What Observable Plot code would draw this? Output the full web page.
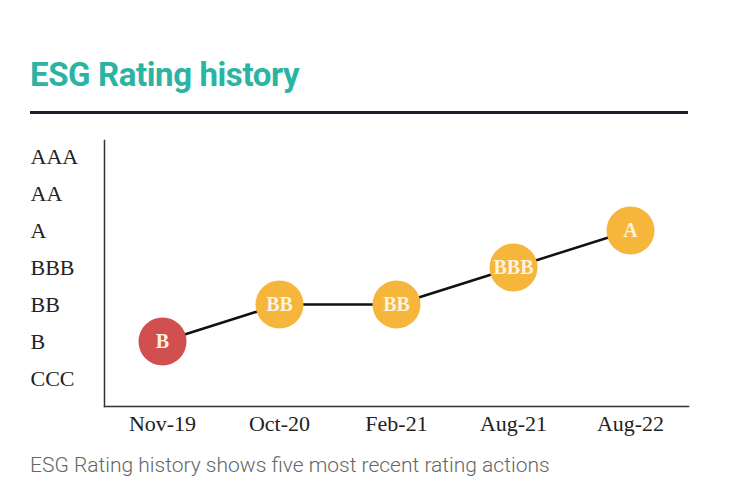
<!DOCTYPE html>
<html>
<head>
<meta charset="utf-8">
<script src="https://cdn.jsdelivr.net/npm/d3@7"></script>
<script src="https://cdn.jsdelivr.net/npm/@observablehq/plot@0.6"></script>
<style>
  html, body { margin: 0; padding: 0; background: #fff; }
  #wrap { position: relative; width: 740px; height: 499px; }
  #title { position: absolute; left: 30px; top: 58px; margin: 0; font-family: Roboto, sans-serif; font-weight: 700; font-size: 33px; color: #2bb3a3; letter-spacing: -0.4px; line-height: 1; }
  #rule { position: absolute; left: 30px; top: 111px; width: 658px; height: 3px; background: #1b1f2a; }
  #chart { position: absolute; left: 0; top: 130px; }
  #caption { position: absolute; left: 30px; top: 455px; font-family: Roboto, sans-serif; font-weight: 300; font-size: 21px; color: #666; line-height: 1; }
</style>
</head>
<body>
<div id="wrap">
  <h1 id="title">ESG Rating history</h1>
  <div id="rule"></div>
  <div id="chart"></div>
  <div id="caption">ESG Rating history shows five most recent rating actions</div>
</div>
<script>
const ratingScale = ["CCC", "B", "BB", "BBB", "A", "AA", "AAA"];
const dates = ["Nov-19", "Oct-20", "Feb-21", "Aug-21", "Aug-22"];
const ratings = ["B", "BB", "BB", "BBB", "A"];
const ratingColors = {B: "#d14f4f", BB: "#f6b63c", BBB: "#f6b63c", A: "#f6b63c"};

const data = dates.map((d, i) => ({date: d, rating: ratings[i]}));

const chart = Plot.plot({
  width: 740,
  height: 311,
  marginTop: 10,
  marginBottom: 35,
  marginLeft: 104,
  marginRight: 52,
  style: {fontFamily: "'Liberation Serif', serif", color: "#222", background: "transparent"},
  x: {type: "point", domain: dates, padding: 0.49, label: null},
  y: {type: "point", domain: ratingScale, reverse: true, padding: 0, insetTop: 16, insetBottom: 28, label: null},
  marks: [
    Plot.frame({anchor: "left", stroke: "#333", strokeWidth: 1.5}),
    Plot.frame({anchor: "bottom", stroke: "#333", strokeWidth: 1.5}),
    Plot.axisY({tickSize: 0, tickPadding: 74, textAnchor: "start", fontSize: 22, fill: "#222", label: null}),
    Plot.axisX({tickSize: 0, tickPadding: 9, fontSize: 22, fill: "#222", label: null}),
    Plot.line(data, {x: "date", y: "rating", stroke: "#111", strokeWidth: 2.5}),
    Plot.dot(data, {x: "date", y: "rating", r: 24, fill: d => ratingColors[d.rating], stroke: "none"}),
    Plot.text(data, {x: "date", y: "rating", text: "rating", fill: "#fbf3df", fontSize: 20, fontWeight: "bold", fontFamily: "'Liberation Serif', serif"})
  ]
});
document.getElementById("chart").appendChild(chart);
</script>
</body>
</html>
